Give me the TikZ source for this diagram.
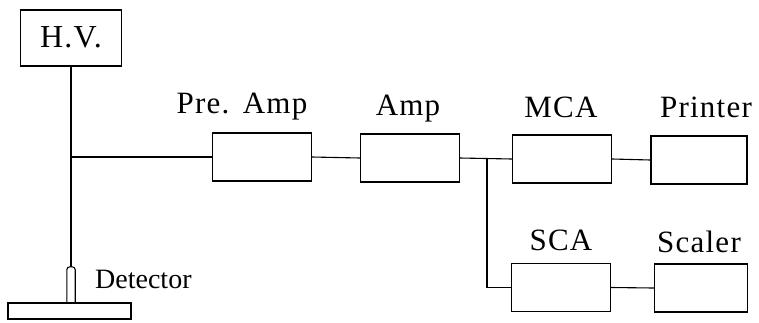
\documentclass[tikz,border=0pt]{standalone}
\usepackage{fontspec}
\setmainfont{Liberation Serif}
\newfontfamily\spaced[LetterSpace=4,WordSpace=1.15]{Liberation Serif}
\begin{document}
\begin{tikzpicture}[x=1pt,y=-1pt,
  box/.style={draw, line width=1.1pt, minimum width=99pt, minimum height=48pt, inner sep=0pt},
  lbl/.style={anchor=base, inner sep=0pt, font=\spaced\fontsize{31}{34}\selectfont},
  wire/.style={line width=1.1pt}]
\useasboundingbox (0,0) rectangle (759,322);
% H.V.
\node[draw, line width=1.1pt, minimum width=101pt, minimum height=56pt, inner sep=0pt] (hv) at (71,38) {};
\node[lbl, font=\spaced\fontsize{32}{35}\selectfont] (hvt) at (71,47) {H.V.};
% boxes
\node[box] (pre) at (262,157) {};
\node[box] (amp) at (410,158) {};
\node[box] (mca) at (562,159) {};
\node[box, minimum width=96pt] (prn) at (699,160) {};
\node[box] (sca) at (561,287.5) {};
\node[box, minimum width=93pt] (scl) at (701,288) {};
% labels
\node[lbl] (tpre) at (242,113) {Pre. Amp};
\node[lbl] (tamp) at (408,115) {Amp};
\node[lbl] (tmca) at (561,117) {MCA};
\node[lbl] (tprn) at (706,117) {Printer};
\node[lbl] (tsca) at (561,250) {SCA};
\node[lbl] (tscl) at (699,252) {Scaler};
\node[lbl, anchor=base west, font=\rmfamily\fontsize{28}{30}\selectfont] (tdet) at (95,288) {Detector};
% detector
\node[minimum width=8pt, minimum height=36pt, inner sep=0pt] (det) at (71,285) {};
\draw[wire, rounded corners=3pt] (det.south west) -- (det.north west) -- (det.north east) -- (det.south east);
\node[draw, line width=1.1pt, minimum width=123pt, minimum height=16pt, inner sep=0pt] (base) at (69.5,311) {};
% wires
\coordinate (j1) at (71,157);
\coordinate (j2) at (487,158.5);
\draw[wire] (hv.south) -- (det.north);
\draw[wire] (j1) -- (pre.west);
\draw[wire] (pre.east) -- (amp.west);
\draw[wire] (amp.east) -- (mca.west);
\draw[wire] (mca.east) -- (prn.west);
\draw[wire] (j2) |- (sca.west);
\draw[wire] (sca.east) -- (scl.west);
\end{tikzpicture}
\end{document}
